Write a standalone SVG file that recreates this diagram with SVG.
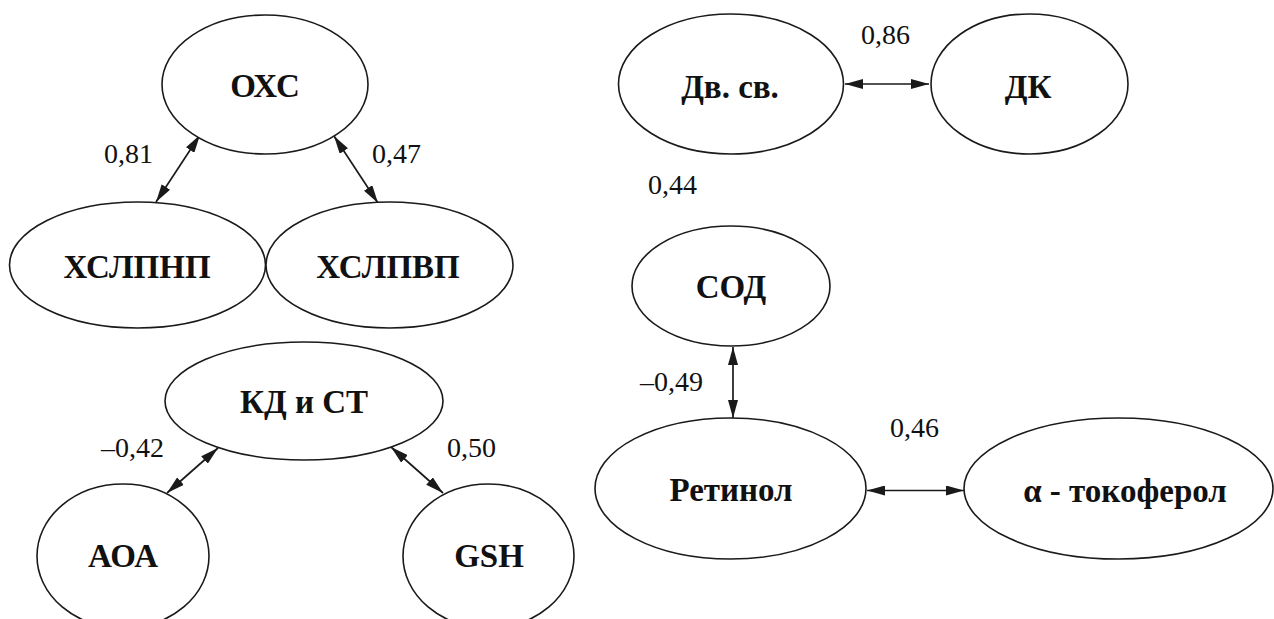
<svg xmlns="http://www.w3.org/2000/svg" width="1274" height="619" viewBox="0 0 1274 619">
  <defs>
    <marker id="head" viewBox="0 0 18 10" refX="18" refY="5" markerWidth="18" markerHeight="10" markerUnits="userSpaceOnUse" orient="auto-start-reverse">
      <path d="M0,0 L18,5 L0,10 Z" fill="#1a1a1a"/>
    </marker>
  </defs>
  <rect width="1274" height="619" fill="#ffffff"/>

  <!-- connectors (double-headed) -->
  <g id="connectors" stroke="#1a1a1a" stroke-width="1.7" marker-start="url(#head)" marker-end="url(#head)">
    <line x1="200" y1="135" x2="156" y2="202"/>
    <line x1="334" y1="136" x2="378" y2="203"/>
    <line x1="218" y1="448" x2="167" y2="493"/>
    <line x1="391" y1="447" x2="443" y2="493"/>
    <line x1="845" y1="84" x2="929" y2="84"/>
    <line x1="733" y1="347" x2="733" y2="418"/>
    <line x1="867" y1="490.5" x2="964" y2="490.5"/>
  </g>

  <!-- nodes: white ellipses with bold serif captions -->
  <g id="node-ohs">
    <ellipse cx="265" cy="84.5" rx="103" ry="69.5" fill="#ffffff" stroke="#1a1a1a" stroke-width="1.6"/>
    <text x="265" y="97" font-family="'Times New Roman', 'Liberation Serif', serif" font-weight="bold" font-size="33" text-anchor="middle" fill="#111111">ОХС</text>
  </g>
  <g id="node-hslpnp">
    <ellipse cx="137.5" cy="265" rx="128" ry="63" fill="#ffffff" stroke="#1a1a1a" stroke-width="1.6"/>
    <text x="137" y="278" font-family="'Times New Roman', 'Liberation Serif', serif" font-weight="bold" font-size="33" text-anchor="middle" fill="#111111">ХСЛПНП</text>
  </g>
  <g id="node-hslpvp">
    <ellipse cx="389.5" cy="265" rx="123.5" ry="63" fill="#ffffff" stroke="#1a1a1a" stroke-width="1.6"/>
    <text x="388" y="278" font-family="'Times New Roman', 'Liberation Serif', serif" font-weight="bold" font-size="33" text-anchor="middle" fill="#111111">ХСЛПВП</text>
  </g>
  <g id="node-kd-st">
    <ellipse cx="304" cy="401" rx="139" ry="59" fill="#ffffff" stroke="#1a1a1a" stroke-width="1.6"/>
    <text x="304" y="413" font-family="'Times New Roman', 'Liberation Serif', serif" font-weight="bold" font-size="33" text-anchor="middle" fill="#111111">КД и СТ</text>
  </g>
  <g id="node-aoa">
    <ellipse cx="123" cy="556" rx="86" ry="72" fill="#ffffff" stroke="#1a1a1a" stroke-width="1.6"/>
    <text x="123" y="567" font-family="'Times New Roman', 'Liberation Serif', serif" font-weight="bold" font-size="33" text-anchor="middle" fill="#111111">АОА</text>
  </g>
  <g id="node-gsh">
    <ellipse cx="488.5" cy="556" rx="85.5" ry="72" fill="#ffffff" stroke="#1a1a1a" stroke-width="1.6"/>
    <text x="489" y="567" font-family="'Times New Roman', 'Liberation Serif', serif" font-weight="bold" font-size="33" text-anchor="middle" fill="#111111">GSH</text>
  </g>
  <g id="node-dv-sv">
    <ellipse cx="731" cy="84" rx="112.5" ry="70" fill="#ffffff" stroke="#1a1a1a" stroke-width="1.6"/>
    <text x="730" y="98" font-family="'Times New Roman', 'Liberation Serif', serif" font-weight="bold" font-size="33" text-anchor="middle" fill="#111111">Дв. св.</text>
  </g>
  <g id="node-dk">
    <ellipse cx="1029.5" cy="84" rx="98.5" ry="70" fill="#ffffff" stroke="#1a1a1a" stroke-width="1.6"/>
    <text x="1028" y="98" font-family="'Times New Roman', 'Liberation Serif', serif" font-weight="bold" font-size="33" text-anchor="middle" fill="#111111">ДК</text>
  </g>
  <g id="node-sod">
    <ellipse cx="731" cy="286" rx="99" ry="60" fill="#ffffff" stroke="#1a1a1a" stroke-width="1.6"/>
    <text x="731" y="298" font-family="'Times New Roman', 'Liberation Serif', serif" font-weight="bold" font-size="33" text-anchor="middle" fill="#111111">СОД</text>
  </g>
  <g id="node-retinol">
    <ellipse cx="730.5" cy="488.5" rx="135.5" ry="70.5" fill="#ffffff" stroke="#1a1a1a" stroke-width="1.6"/>
    <text x="731" y="501" font-family="'Times New Roman', 'Liberation Serif', serif" font-weight="bold" font-size="33" text-anchor="middle" fill="#111111">Ретинол</text>
  </g>
  <g id="node-tocopherol">
    <ellipse cx="1118.5" cy="488.5" rx="154.5" ry="70.5" fill="#ffffff" stroke="#1a1a1a" stroke-width="1.6"/>
    <text x="1125" y="502" font-family="'Times New Roman', 'Liberation Serif', serif" font-weight="bold" font-size="33" text-anchor="middle" fill="#111111">α - токоферол</text>
  </g>

  <!-- correlation coefficients -->
  <g id="labels">
    <text x="104" y="163" font-family="'Times New Roman', 'Liberation Serif', serif" font-size="28" fill="#111111">0,81</text>
    <text x="372" y="163" font-family="'Times New Roman', 'Liberation Serif', serif" font-size="28" fill="#111111">0,47</text>
    <text x="101" y="457" font-family="'Times New Roman', 'Liberation Serif', serif" font-size="28" fill="#111111">–0,42</text>
    <text x="447" y="457" font-family="'Times New Roman', 'Liberation Serif', serif" font-size="28" fill="#111111">0,50</text>
    <text x="861" y="44" font-family="'Times New Roman', 'Liberation Serif', serif" font-size="28" fill="#111111">0,86</text>
    <text x="648" y="194" font-family="'Times New Roman', 'Liberation Serif', serif" font-size="28" fill="#111111">0,44</text>
    <text x="640" y="391" font-family="'Times New Roman', 'Liberation Serif', serif" font-size="28" fill="#111111">–0,49</text>
    <text x="890" y="437" font-family="'Times New Roman', 'Liberation Serif', serif" font-size="28" fill="#111111">0,46</text>
  </g>
</svg>
